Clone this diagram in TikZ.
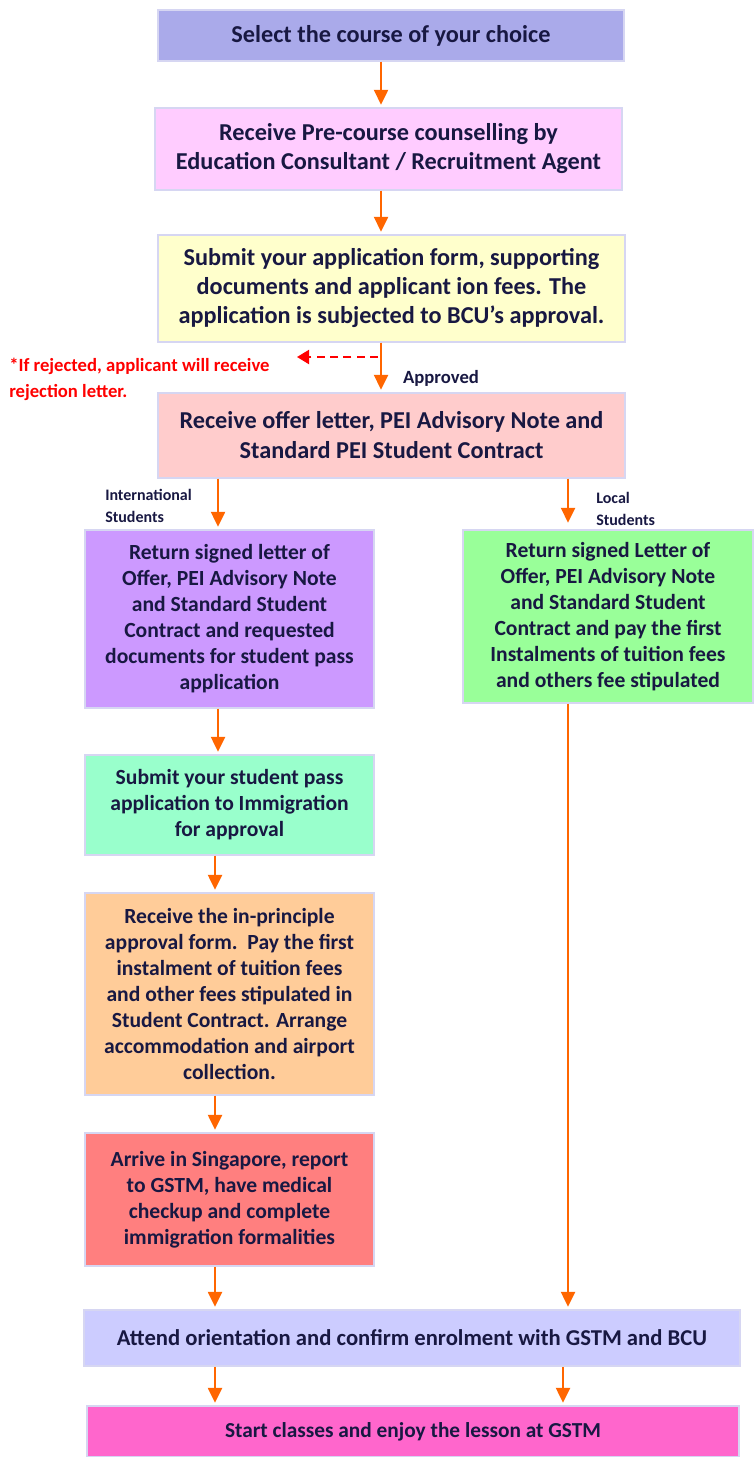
\documentclass[tikz,border=0pt]{standalone}
\usepackage{fontspec}
\setmainfont{Carlito}
\usetikzlibrary{arrows.meta}
\definecolor{ink}{RGB}{24,24,66}
\definecolor{edge}{RGB}{214,214,242}
\definecolor{flowc}{RGB}{255,102,0}
\definecolor{cSelect}{RGB}{170,170,234}
\definecolor{cCounsel}{RGB}{255,204,255}
\definecolor{cSubmit}{RGB}{255,255,204}
\definecolor{cOffer}{RGB}{255,204,204}
\definecolor{cIntl}{RGB}{204,153,255}
\definecolor{cLocal}{RGB}{153,255,153}
\definecolor{cPass}{RGB}{153,255,204}
\definecolor{cPrinciple}{RGB}{255,204,153}
\definecolor{cArrive}{RGB}{255,127,127}
\definecolor{cOrient}{RGB}{204,204,255}
\definecolor{cStart}{RGB}{255,102,204}
\begin{document}
\begin{tikzpicture}[x=0.75pt,y=-0.75pt,
    box/.style={draw=edge,line width=1.1pt,inner sep=0pt,align=center,text=ink,font=\bfseries},
    big/.style={box,font=\fontsize{18.2}{21.75}\selectfont\bfseries},
    small/.style={box,font=\fontsize{16.2}{19.5}\selectfont\bfseries},
    flow/.style={draw=flowc,line width=1.5pt,-{Triangle[width=10.5pt,length=11pt]},shorten >=2pt},
    tag/.style={align=left,text=ink,inner sep=0pt,font=\fontsize{12}{16.5}\selectfont\bfseries}]
    \useasboundingbox (0,0) rectangle (754,1457);

    \node[big, fill=cSelect, minimum width=349.5pt, minimum height=38.25pt] at (391,35.5) (select) {Select the course of your choice};
    \node[big, fill=cCounsel, minimum width=350.25pt, minimum height=61.5pt] at (388.5,149) (counsel) {Receive Pre-course counselling by\\Education Consultant / Recruitment Agent};
    \node[big, fill=cSubmit, minimum width=350.25pt, minimum height=80.25pt] at (391.5,288.5) (submit) {Submit your application form, supporting\\documents and applicant ion fees. The\\application is subjected to BCU’s approval.};
    \node[big, fill=cOffer, minimum width=350.25pt, minimum height=63.75pt, font=\fontsize{18.2}{22.5}\selectfont\bfseries] at (391.5,435.5) (offer) {Receive offer letter, PEI Advisory Note and\\Standard PEI Student Contract};

    \node[small, fill=cIntl, minimum width=216.75pt, minimum height=133.5pt] at (229.5,619) (intl) {Return signed letter of\\Offer, PEI Advisory Note\\and Standard Student\\Contract and requested\\documents for student pass\\application};
    \node[small, fill=cLocal, minimum width=217.5pt, minimum height=129.75pt] at (608,616.5) (local) {Return signed Letter of\\Offer, PEI Advisory Note\\and Standard Student\\Contract and pay the first\\Instalments of tuition fees\\and others fee stipulated};
    \node[small, fill=cPass, minimum width=216.75pt, minimum height=75pt] at (229.5,805) (pass) {Submit your student pass\\application to Immigration\\for approval};
    \node[small, fill=cPrinciple, minimum width=216.75pt, minimum height=151.5pt] at (229.5,994) (principle) {Receive the in-principle\\approval form.\ \ Pay the first\\instalment of tuition fees\\and other fees stipulated in\\Student Contract. Arrange\\accommodation and airport\\collection.};
    \node[small, fill=cArrive, minimum width=216.75pt, minimum height=99.75pt] at (229.5,1199.5) (arrive) {Arrive in Singapore, report\\to GSTM, have medical\\checkup and complete\\immigration formalities};

    \node[small, fill=cOrient, minimum width=492pt, minimum height=42pt, font=\fontsize{17}{19.5}\selectfont\bfseries] at (412,1338) (orient) {Attend orientation and confirm enrolment with GSTM and BCU};
    \node[small, fill=cStart, minimum width=489pt, minimum height=38.25pt, font=\fontsize{16}{19.5}\selectfont\bfseries] at (413,1431.5) (start) {Start classes and enjoy the lesson at GSTM};

    % labels
    \node[tag, font=\fontsize{14}{19.5}\selectfont\bfseries] at (441,378) (approved) {Approved};
    \node[tag, anchor=west, text=red, font=\fontsize{14}{19.5}\selectfont\bfseries] at (9,379) (rejnote) {*If rejected, applicant will receive\\rejection letter.};
    \node[tag, anchor=west] at (105,506) (intltag) {International\\Students};
    \node[tag, anchor=west] at (596,509) (localtag) {Local\\Students};

    % columns for the connectors
    \coordinate (cMain) at (381,0);
    \coordinate (cLeft) at (218,0);
    \coordinate (cLeftB) at (215,0);
    \coordinate (cRight) at (568,0);
    \coordinate (cRightB) at (563,0);
    \coordinate (fork) at (378,357);
    \coordinate (rej) at (297,357);

    \draw[flow] (select.south -| cMain) -- (counsel.north -| cMain);
    \draw[flow] (counsel.south -| cMain) -- (submit.north -| cMain);
    \draw[flow] (submit.south -| cMain) -- (offer.north -| cMain);
    \draw[red, line width=1.5pt, dash pattern=on 6pt off 4pt, -{Triangle[width=10.5pt,length=9pt]}] (fork) -- (rej);

    \draw[flow] (offer.south -| cLeft) -- (intl.north -| cLeft);
    \draw[flow, shorten >=5pt] (offer.south -| cRight) -- (local.north -| cRight);
    \draw[flow] (intl.south -| cLeft) -- (pass.north -| cLeft);
    \draw[flow] (pass.south -| cLeftB) -- (principle.north -| cLeftB);
    \draw[flow] (principle.south -| cLeftB) -- (arrive.north -| cLeftB);
    \draw[flow] (arrive.south -| cLeftB) -- (orient.north -| cLeftB);
    \draw[flow] (local.south -| cRight) -- (orient.north -| cRight);
    \draw[flow] (orient.south -| cLeftB) -- (start.north -| cLeftB);
    \draw[flow] (orient.south -| cRightB) -- (start.north -| cRightB);
\end{tikzpicture}
\end{document}
